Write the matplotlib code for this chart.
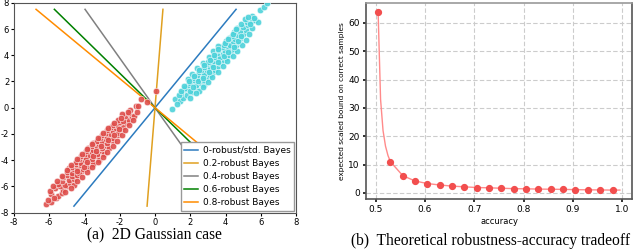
import matplotlib.pyplot as plt

plt.rcParams['axes.unicode_minus'] = False

# ---- data: 2D Gaussian samples ----
red_x = [-6.2, -5.9, -6.1, -5.6, -5.9, -5.5, -5.3, -5.7, -5.2, -5.0, -5.4,
         -5.5, -5.1, -4.8, -5.3, -4.6, -5.2, -4.9, -4.6, -4.4, -5.0, -4.7,
         -5.0, -4.7, -4.4, -4.2, -4.6, -4.9, -4.3, -4.7, -4.4, -4.1, -3.9,
         -4.5, -4.2, -3.8, -4.5, -4.2, -3.9, -3.6, -4.3, -4.0, -3.7, -3.5,
         -4.2, -3.9, -3.6, -3.3, -4.0, -3.7, -3.4, -3.2, -3.9, -3.6, -3.3,
         -3.0, -3.8, -3.5, -3.2, -2.9, -3.6, -3.3, -3.0, -2.7, -3.5, -3.2,
         -2.9, -2.6, -3.3, -3.0, -2.7, -2.4, -3.1, -2.8, -2.5, -3.0, -2.7,
         -2.4, -2.1, -2.8, -2.5, -2.2, -2.7, -2.4, -2.1, -1.9, -2.5, -2.2,
         -2.4, -2.1, -1.8, -1.6, -2.0, -2.1, -1.8, -1.5, -1.3, -1.7, -1.9,
         -1.5, -1.2, -1.0, -1.4, -1.1, -0.8, -0.45, 0.05,
         -5.75, -5.95, -5.1, -5.8, -4.75, -5.55, -4.45, -5.25, -4.15, -5.0,
         -3.85, -4.45, -4.75, -3.55, -4.05, -4.45, -3.25, -3.85, -4.15, -2.95,
         -3.5, -3.85, -2.7, -3.35, -3.55, -2.4, -3.05, -3.25, -2.15, -2.65,
         -2.95, -1.9, -2.35, -2.65, -1.7, -2.05, -2.3, -1.45, -1.95, -1.25,
         -1.55, -0.98]
red_y = [-7.3, -7.2, -7.05, -6.9, -6.6, -6.7, -6.5, -6.1, -6.3, -6.0, -6.0,
         -5.8, -5.9, -5.7, -5.6, -5.9, -5.3, -5.5, -5.4, -5.2, -5.1, -5.2,
         -4.9, -5.0, -5.1, -4.8, -4.7, -4.6, -4.95, -4.5, -4.6, -4.7, -4.4,
         -4.3, -4.4, -4.6, -4.1, -4.2, -4.3, -4.1, -3.9, -4.0, -3.8, -4.3,
         -3.7, -3.8, -3.9, -3.7, -3.5, -3.6, -3.5, -3.95, -3.3, -3.4, -3.5,
         -3.3, -3.1, -3.2, -3.1, -3.55, -2.9, -3.0, -3.1, -2.9, -2.7, -2.8,
         -2.7, -3.1, -2.5, -2.6, -2.7, -2.5, -2.3, -2.4, -2.3, -2.1, -2.2,
         -2.3, -2.1, -1.9, -2.0, -1.85, -1.7, -1.8, -1.9, -1.6, -1.5, -1.55,
         -1.3, -1.4, -1.45, -1.2, -1.1, -0.9, -1.0, -0.95, -0.7, -0.6, -0.5,
         -0.4, -0.6, -0.3, -0.2, 0.1, 0.7, 0.45, 1.3,
         -6.85, -6.35, -6.45, -5.95, -6.1, -5.55, -5.6, -5.2, -5.3, -4.75,
         -4.9, -4.85, -4.35, -4.5, -4.5, -3.9, -4.1, -4.15, -3.55, -3.75,
         -3.7, -3.15, -3.35, -3.3, -2.75, -2.95, -2.9, -2.3, -2.55, -2.45,
         -1.95, -2.1, -2.05, -1.55, -1.7, -1.65, -1.15, -1.3, -0.75, -0.9,
         -0.3, 0.13]

cyan_x = [0.95, 1.15, 1.4, 1.6, 1.5, 1.8, 2.1, 1.7, 1.7, 2.0, 2.3, 2.5, 1.9,
          2.0, 2.3, 2.6, 2.2, 2.8, 1.9, 2.2, 2.5, 2.8, 3.0, 2.4, 2.7, 2.1,
          2.5, 2.8, 3.1, 3.3, 2.6, 2.95, 2.4, 2.8, 3.1, 3.4, 3.6, 2.9, 3.25,
          2.7, 3.5, 3.0, 3.35, 3.7, 3.9, 3.2, 3.55, 3.05, 3.4, 3.7, 4.0, 4.2,
          3.5, 3.85, 3.3, 3.6, 3.95, 4.3, 4.5, 3.8, 4.15, 3.55, 3.9, 4.25,
          4.6, 4.75, 4.05, 4.4, 4.2, 4.55, 4.85, 4.35, 4.7, 5.0, 4.5, 4.8,
          5.15, 4.65, 5.0, 5.3, 4.9, 5.2, 5.5, 5.1, 5.7, 5.5, 5.95, 6.2, 6.34,
          5.3,
          1.25, 1.35, 2.0, 1.45, 2.35, 1.65, 2.7, 2.15, 1.95, 3.0, 2.45, 2.2,
          3.25, 2.75, 2.5, 3.55, 3.05, 2.8, 3.85, 3.3, 3.1, 4.1, 3.6, 3.35,
          4.4, 3.9, 3.6, 4.65, 4.15, 3.95, 4.95, 4.5, 4.15, 5.15, 4.7, 4.4,
          5.35, 4.9, 4.6, 5.5, 5.4, 5.85, 5.6]
cyan_y = [-0.1, 0.7, 0.5, 0.75, 1.1, 0.95, 1.2, 1.4, 1.5, 1.3, 1.5, 1.3, 1.7,
          1.9, 1.7, 1.9, 2.1, 1.75, 2.2, 2.3, 2.2, 2.1, 2.3, 2.5, 2.45, 2.6,
          2.7, 2.6, 2.5, 2.75, 2.9, 2.85, 3.0, 3.1, 3.0, 2.9, 3.2, 3.35, 3.25,
          3.4, 3.45, 3.5, 3.55, 3.4, 3.65, 3.75, 3.7, 3.85, 3.9, 3.85, 3.8,
          4.05, 4.15, 4.1, 4.3, 4.4, 4.35, 4.3, 4.5, 4.6, 4.6, 4.7, 4.8, 4.8,
          4.75, 5.0, 5.05, 5.05, 5.3, 5.25, 5.3, 5.5, 5.55, 5.6, 5.75, 5.85,
          5.9, 6.1, 6.15, 6.3, 6.35, 6.5, 6.6, 6.8, 6.7, 7.0, 7.45, 7.7, 7.95,
          6.95,
          0.25, 0.95, 0.75, 1.25, 1.1, 1.65, 1.55, 1.6, 2.05, 1.95, 2.0, 2.45,
          2.35, 2.3, 2.85, 2.75, 2.75, 3.25, 3.15, 3.1, 3.65, 3.55, 3.5, 4.05,
          3.95, 3.95, 4.45, 4.35, 4.25, 4.9, 4.8, 4.65, 5.25, 5.15, 5.1, 5.65,
          5.6, 5.5, 6.0, 6.05, 6.35, 6.5, 6.85]

# decision boundaries through the origin: x where each line hits y = +/-7.5
bound_labels = ['0-robust/std. Bayes', '0.2-robust Bayes', '0.4-robust Bayes',
                '0.6-robust Bayes', '0.8-robust Bayes']
bound_x_top = [4.6, 0.45, -3.97, -5.71, -6.75]
bound_colors = ['#2c7bbf', '#e0a020', 'gray', 'green', '#ff8c00']
y_end = 7.5

# ---- data: robustness-accuracy tradeoff ----
acc = [0.505, 0.53, 0.555, 0.58, 0.605, 0.63, 0.655, 0.68, 0.705, 0.73,
       0.755, 0.78, 0.805, 0.83, 0.855, 0.88, 0.905, 0.93, 0.955, 0.98]
bound = [64, 11, 6.1, 4.2, 3.3, 2.8, 2.4, 2.15, 1.9, 1.8,
         1.65, 1.5, 1.45, 1.35, 1.3, 1.25, 1.15, 1.1, 1.05, 1.0]
curve_acc = [0.505, 0.51, 0.515, 0.52, 0.525] + acc[1:] + [0.995]
curve_val = [64, 33, 22, 16.5, 13.2] + bound[1:] + [1.0]

fig = plt.figure(figsize=(6.4, 2.52), dpi=100)

# (a) 2D Gaussian case
ax1 = fig.add_axes([0.0219, 0.156, 0.4406, 0.833])
ax1.scatter(red_x, red_y, s=22, color='#de4f4c', edgecolors='white',
            linewidths=0.4, alpha=0.9, zorder=3)
ax1.scatter(cyan_x, cyan_y, s=22, color='#4dd2da', edgecolors='white',
            linewidths=0.4, alpha=0.9, zorder=3)
for lab, xt, c in zip(bound_labels, bound_x_top, bound_colors):
    ax1.plot([-xt, xt], [-y_end, y_end], color=c, lw=1.1, label=lab, zorder=2)
ax1.set_xlim(-8, 8)
ax1.set_ylim(-8, 8)
ax1.set_xticks(range(-8, 9, 2))
ax1.set_yticks(range(-8, 9, 2))
ax1.tick_params(labelsize=6, length=2.5, pad=1)
for s in ax1.spines.values():
    s.set_color('#555555')
ax1.legend(loc='lower right', fontsize=6.5, handlelength=1.5,
           borderpad=0.4, labelspacing=0.45, handletextpad=0.55,
           borderaxespad=0.2, fancybox=False, edgecolor='#999999',
           framealpha=1)

# (b) theoretical tradeoff
ax2 = fig.add_axes([0.5719, 0.2103, 0.4156, 0.779])
ax2.grid(True, color='#cccccc', linestyle=(0, (4, 2)), lw=0.8)
ax2.set_axisbelow(True)
ax2.plot(curve_acc, curve_val, color='#ff8a8a', lw=1.0)
ax2.plot(acc, bound, 'o', color='#f24e4e', ms=4.2)
ax2.set_xticks([0.5, 0.6, 0.7, 0.8, 0.9, 1.0])
ax2.set_yticks(range(0, 61, 10))
ax2.tick_params(labelsize=6.5, length=2.5, width=1.4, color='#333333', pad=2)
ax2.set_xlabel('accuracy', fontsize=6, labelpad=2)
ax2.set_ylabel('expected scaled bound on correct samples', fontsize=5.3,
               labelpad=2)
for s in ax2.spines.values():
    s.set_color('#555555')
    s.set_linewidth(1.2)
ax2.spines['top'].set_color('#999999')

fig.text(0.242, 0.067, '(a)  2D Gaussian case', ha='center', va='center',
         family='Liberation Serif', fontsize=11.2)
fig.text(0.766, 0.045, '(b)  Theoretical robustness-accuracy tradeoff',
         ha='center', va='center', family='Liberation Serif', fontsize=11.2)

fig.savefig('out.png', dpi=100)
